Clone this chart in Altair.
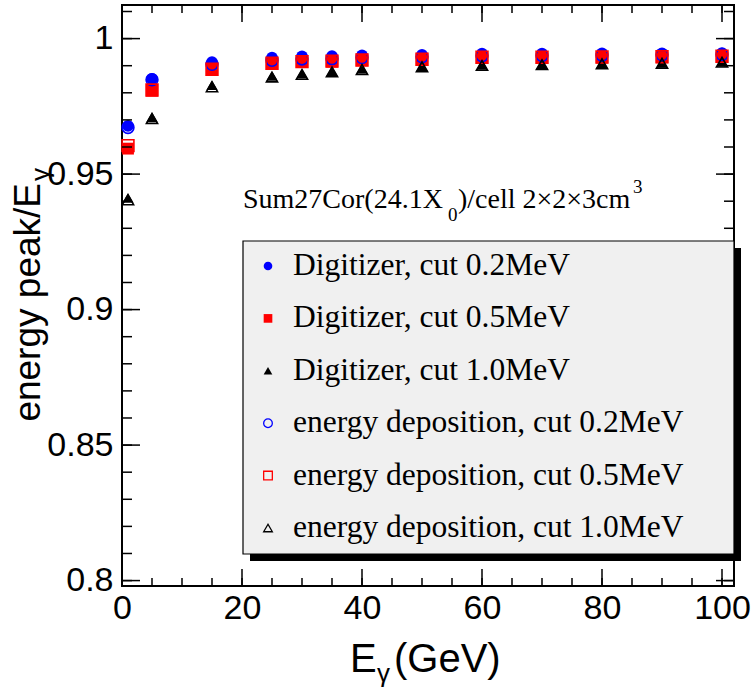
import altair as alt
import pandas as pd

# Photon energies (GeV)
energy = [1, 5, 15, 25, 30, 35, 40, 50, 60, 70, 80, 90, 100]

# energy peak / E_gamma for each reconstruction
dig_02 = [0.9678, 0.9851, 0.9913, 0.9930, 0.9934, 0.9935, 0.9938, 0.9940, 0.9944, 0.9944, 0.9945, 0.9945, 0.9946]
dig_05 = [0.9594, 0.9808, 0.9885, 0.9907, 0.9914, 0.9915, 0.9920, 0.9922, 0.9930, 0.9929, 0.9930, 0.9931, 0.9933]
dig_10 = [0.9412, 0.9710, 0.9828, 0.9862, 0.9871, 0.9880, 0.9889, 0.9898, 0.9903, 0.9906, 0.9909, 0.9910, 0.9914]
dep_02 = [0.9672, 0.9848, 0.9905, 0.9920, 0.9925, 0.9926, 0.9930, 0.9933, 0.9937, 0.9938, 0.9939, 0.9940, 0.9941]
dep_05 = [0.9605, 0.9810, 0.9887, 0.9909, 0.9915, 0.9917, 0.9921, 0.9924, 0.9931, 0.9931, 0.9932, 0.9933, 0.9935]
dep_10 = [0.9405, 0.9705, 0.9822, 0.9858, 0.9868, 0.9877, 0.9886, 0.9896, 0.9901, 0.9904, 0.9907, 0.9909, 0.9913]

series_labels = [
    "Digitizer, cut 0.2MeV",
    "Digitizer, cut 0.5MeV",
    "Digitizer, cut 1.0MeV",
    "energy deposition, cut 0.2MeV",
    "energy deposition, cut 0.5MeV",
    "energy deposition, cut 1.0MeV",
]
series_values = [dig_02, dig_05, dig_10, dep_02, dep_05, dep_10]

# Axis ticks
x_major = [0, 20, 40, 60, 80, 100]
x_minor = [0, 5, 10, 15, 20, 25, 30, 35, 40, 45, 50, 55, 60, 65, 70, 75, 80, 85, 90, 95, 100]
y_major = [0.8, 0.85, 0.9, 0.95, 1.0]
y_minor = [0.80, 0.81, 0.82, 0.83, 0.84, 0.85, 0.86, 0.87, 0.88, 0.89, 0.90,
           0.91, 0.92, 0.93, 0.94, 0.95, 0.96, 0.97, 0.98, 0.99, 1.00, 1.01]

# ---- styling ----
W, H = 612, 581
SANS = "Liberation Sans"
SERIF = "Liberation Serif"
styles = [
    dict(shape="circle", color="#0000ff", filled=True, size=140),
    dict(shape="square", color="#ff0000", filled=True, size=140),
    dict(shape="triangle-up", color="#000000", filled=True, size=125),
    dict(shape="circle", color="#0000ff", filled=False, size=140),
    dict(shape="square", color="#ff0000", filled=False, size=140),
    dict(shape="triangle-up", color="#000000", filled=False, size=125),
]

xscale = alt.Scale(domain=[0, 102], nice=False, zero=False)
yscale = alt.Scale(domain=[0.798, 1.0124], nice=False, zero=False)
xaxis = alt.Axis(values=x_major, ticks=False, domain=False, grid=False,
                 labelFont=SANS, labelFontSize=34, labelColor="black",
                 labelPadding=5, labelFlush=False, labelOverlap=False, title=None)
yaxis = alt.Axis(values=y_major, ticks=False, domain=False, grid=False, format="~g",
                 labelFont=SANS, labelFontSize=34, labelColor="black",
                 labelPadding=9, labelFlush=False, labelOverlap=False, title=None)


def X(field):
    return alt.X(field, type="quantitative", scale=xscale, axis=xaxis)


def Y(field):
    return alt.Y(field, type="quantitative", scale=yscale, axis=yaxis)


one = pd.DataFrame({"k": [0]})
layers = []

# data points
for lab, vals, st in zip(series_labels, series_values, styles):
    df = pd.DataFrame({"E": energy, "r": vals, "series": lab})
    mk = alt.Chart(df).mark_point(
        shape=st["shape"], size=st["size"], filled=st["filled"],
        color=st["color"], opacity=1,
        strokeWidth=1.6 if not st["filled"] else 0,
    ).encode(x=X("E"), y=Y("r"))
    layers.append(mk)

# inward ticks on all four sides
def tick_rules(vals, axis, length):
    df = pd.DataFrame({"v": vals})
    base = alt.Chart(df).mark_rule(color="black", strokeWidth=1.5, opacity=1)
    if axis == "x":
        return [
            base.encode(x=X("v"), y=alt.value(H), y2=alt.value(H - length)),
            base.encode(x=X("v"), y=alt.value(0), y2=alt.value(length)),
        ]
    return [
        base.encode(y=Y("v"), x=alt.value(0), x2=alt.value(length)),
        base.encode(y=Y("v"), x=alt.value(W), x2=alt.value(W - length)),
    ]

layers += tick_rules(x_minor, "x", 8)
layers += tick_rules(x_major, "x", 17)
layers += tick_rules(y_minor, "y", 10)
layers += tick_rules(y_major, "y", 18)

# annotation: Sum27Cor(24.1X_0)/cell 2x2x3cm^3
def txt(text, x, y, size, font=SERIF, align="left", baseline="alphabetic", angle=0):
    kw = dict(text=text, font=font, fontSize=size, align=align, baseline=baseline, color="black")
    if angle:
        kw["angle"] = angle
    return alt.Chart(one).mark_text(**kw).encode(x=alt.value(x), y=alt.value(y))

layers += [
    txt("Sum27Cor(24.1X", 121, 203, 28),
    txt("0", 326, 216, 19),
    txt(")/cell 2×2×3cm", 336, 203, 28),
    txt("3", 511, 188, 19),
]

# legend box with drop shadow
layers.append(alt.Chart(one).mark_rect(fill="black").encode(
    x=alt.value(128), x2=alt.value(619), y=alt.value(243), y2=alt.value(556)))
layers.append(alt.Chart(one).mark_rect(fill="#f0f0f0", stroke="black", strokeWidth=1.2).encode(
    x=alt.value(121), x2=alt.value(612), y=alt.value(236), y2=alt.value(549)))

row0, step = 261, 52.4
for i, (lab, st) in enumerate(zip(series_labels, styles)):
    yy = row0 + i * step
    layers.append(alt.Chart(one).mark_point(
        shape=st["shape"], size=75, filled=st["filled"], color=st["color"], opacity=1,
        strokeWidth=1.3 if not st["filled"] else 0,
    ).encode(x=alt.value(146), y=alt.value(yy)))
    layers.append(txt(lab, 171, yy + 9, 31.5))

# axis titles
layers += [
    txt("energy peak/E", -82, 178, 37, font=SANS, align="right", angle=270),
    txt("γ", -73, 176, 26, font=SANS, align="left", angle=270),
    txt("E", 228, 667, 40, font=SANS),
    txt("γ", 255, 677, 26, font=SANS),
    txt("(GeV)", 272, 667, 40, font=SANS),
]

chart = alt.layer(*layers).properties(
    width=W, height=H,
    autosize=alt.AutoSizeParams(type="none"),
    padding={"left": 122, "top": 5, "right": 19, "bottom": 105},
).configure(
    background="white",
    view=alt.ViewConfig(stroke="black", strokeWidth=2),
)

chart.save("out.html", embed_options={"renderer": "svg", "actions": False})
